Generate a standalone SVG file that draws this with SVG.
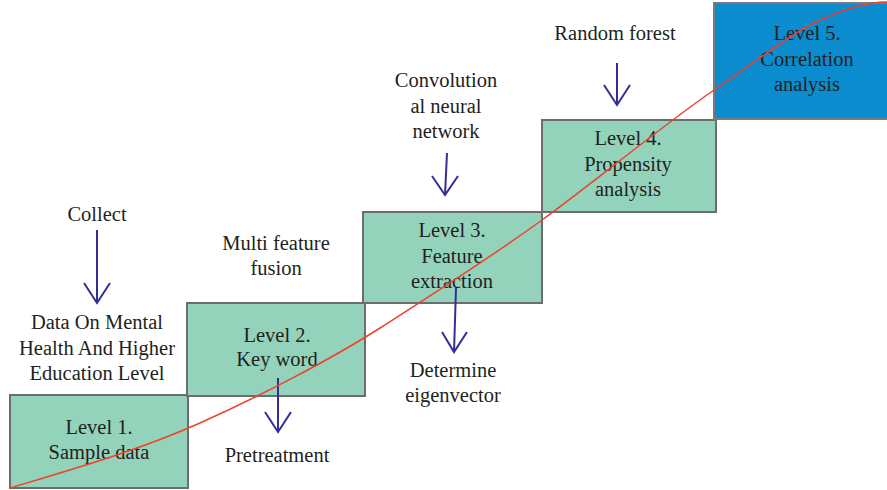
<svg xmlns="http://www.w3.org/2000/svg" width="887" height="490" viewBox="0 0 887 490">
<defs>
<style>
.box{fill:#93d2bb;stroke:#6d6d6d;stroke-width:2}
.blue{fill:#0b8ccf;stroke:#7a7a7a;stroke-width:2}
.arr{fill:none;stroke:#332d95;stroke-width:2}
.curve{fill:none;stroke:#f0402a;stroke-width:1.5}
</style>
</defs>
<rect width="887" height="490" fill="#ffffff"/>
<g font-family="Liberation Serif" font-size="20.5" fill="#231f20" text-anchor="middle">
<g id="level1"><rect class="box" x="10" y="395" width="178" height="93"/><text x="99" y="434">Level 1.</text><text x="99" y="459">Sample data</text></g>
<g id="level2"><rect class="box" x="187" y="303" width="178" height="93"/><text x="277" y="342">Level 2.</text><text x="277" y="366">Key word</text></g>
<g id="level3"><rect class="box" x="363" y="212" width="179" height="91"/><text x="452" y="237">Level 3.</text><text x="452" y="263">Feature</text><text x="452" y="288">extraction</text></g>
<g id="level4"><rect class="box" x="542" y="120" width="174" height="92"/><text x="628" y="145">Level 4.</text><text x="628" y="171">Propensity</text><text x="628" y="196">analysis</text></g>
<g id="level5"><rect class="blue" x="714" y="3" width="175" height="116"/><text x="807" y="40">Level 5.</text><text x="807" y="66">Correlation</text><text x="807" y="91">analysis</text></g>
<g id="labels">
<text x="97" y="221">Collect</text>
<text x="97" y="329">Data On Mental</text><text x="97" y="355">Health And Higher</text><text x="97" y="380">Education Level</text>
<text x="276" y="250">Multi feature</text><text x="276" y="275">fusion</text>
<text x="277" y="462">Pretreatment</text>
<text x="446" y="87">Convolution</text><text x="446" y="113">al neural</text><text x="446" y="138">network</text>
<text x="453" y="377">Determine</text><text x="453" y="402">eigenvector</text>
<text x="615" y="40">Random forest</text>
</g>
</g>
<g id="connectors">
<path class="arr" d="M97,230 V303 M84,283 L97,303 L110,283"/>
<path class="arr" d="M278,378 V432 M265,412 L278,432 L291,412"/>
<path class="arr" d="M456,288 L454,352 M442,332 L454,352 L467,332"/>
<path class="arr" d="M447,153 L445,195 M432,176 L445,195 L458,176"/>
<path class="arr" d="M617,63 V105 M604,85 L617,105 L630,85"/>
<path class="curve" d="M10,488 C70,470 140,450 200,423 S330,360 380,328 S490,258 542,220 S670,120 714,90 S790,35 810,25 S860,2 887,2"/>
</g>
</svg>
